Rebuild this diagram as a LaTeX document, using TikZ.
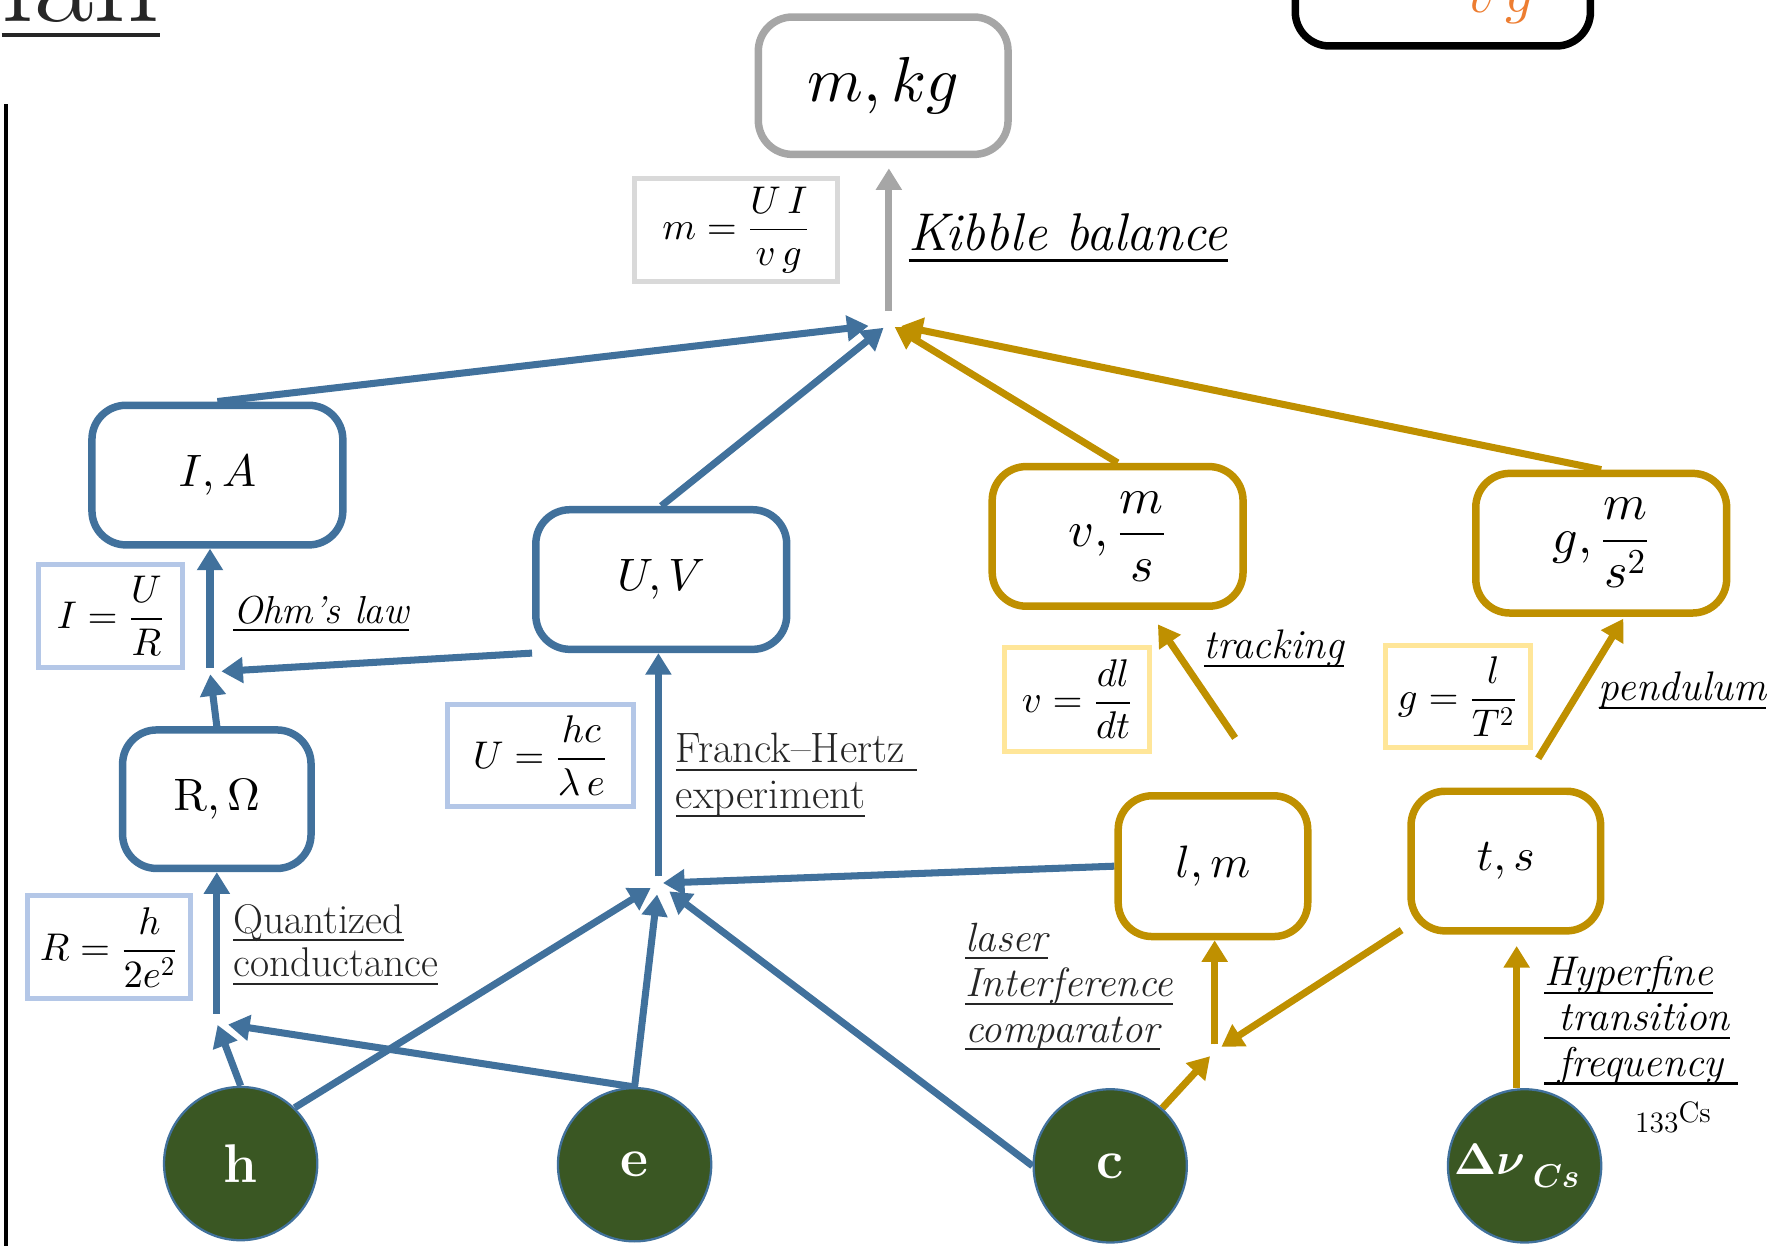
\documentclass[tikz,border=0pt]{standalone}
\usepackage{amsmath}
\usetikzlibrary{arrows.meta}
\DeclareFontShape{OT1}{cmr}{m}{n}{<->cmr10}{}
\DeclareFontShape{OT1}{cmr}{bx}{n}{<->cmbx10}{}
\DeclareFontShape{OML}{cmm}{m}{it}{<->cmmi10}{}
\DeclareFontShape{OML}{cmm}{b}{it}{<->cmmib10}{}
\DeclareFontShape{OMS}{cmsy}{m}{n}{<->cmsy10}{}
\DeclareFontShape{OMS}{cmsy}{b}{n}{<->cmbsy10}{}
\DeclareFontShape{OMX}{cmex}{m}{n}{<->cmex10}{}
\definecolor{blueC}{HTML}{41719C}
\definecolor{goldC}{HTML}{BF9000}
\definecolor{grayC}{HTML}{A6A6A6}
\definecolor{lblueC}{HTML}{B4C7E7}
\definecolor{lyellowC}{HTML}{FFE699}
\definecolor{lgrayC}{HTML}{D9D9D9}
\definecolor{greenC}{HTML}{3A5723}
\definecolor{orangeC}{HTML}{ED7D31}
\definecolor{textgray}{HTML}{262626}
\newsavebox{\ulbox}
\newcommand{\ulx}[3]{\sbox{\ulbox}{#3}\rlap{\rule[-#1]{\wd\ulbox}{#2}}\usebox{\ulbox}}
\newcommand{\myul}[1]{\ulx{0.2em}{0.9pt}{#1}}
\pgfdeclarelayer{bg}
\pgfsetlayers{bg,main}
\begin{document}
\begin{tikzpicture}[x=0.5pt,y=-0.5pt,
  bx/.style n args={3}{draw=#1, fill=white, line width=3.3pt, rounded corners=15pt,
     minimum width=#2, minimum height=#3, inner sep=0pt},
  fbx/.style n args={3}{draw=#1, fill=white, line width=2.2pt,
     minimum width=#2, minimum height=#3, inner sep=0pt, font=\fontsize{17}{20}\selectfont},
  labf/.style={font=\fontsize{20}{24}\selectfont},
  fracf/.style={font=\fontsize{22}{26}\selectfont},
  circ/.style={circle, draw=blueC, line width=1pt, fill=greenC, minimum size=67.5pt,
     inner sep=0pt, text=white},
  txt/.style={anchor=base west, inner sep=0pt},
  con/.style={line width=3.1pt, -{Triangle[length=9.5pt,width=11pt]}},
  bcon/.style={con, draw=blueC, fill=blueC},
  gcon/.style={con, draw=goldC, fill=goldC},
  grcon/.style={con, draw=grayC, fill=grayC}]
\useasboundingbox (0,0) rectangle (1568,1098);
\clip (0,0) rectangle (1568,1098);

% fragments at the edges
\node[anchor=base east, inner sep=0pt, text=textgray, font=\fontsize{57}{57}\selectfont] (title) at (141,19)
  {\ulx{7pt}{2pt}{lan}};
\draw[line width=1.75pt] (5,92) -- (5,1098);
\node[draw=black, line width=3.3pt, rounded corners=15pt, minimum width=130pt,
  minimum height=59.5pt, inner sep=0pt] (topbox) at (1271,-19) {};
\node[anchor=base, inner sep=0pt, text=orangeC, font=\fontsize{25}{25}\selectfont] (vg) at (1322,11) {$v\,g$};

% boxes
\node[bx={grayC}{110pt}{60.5pt}, font=\fontsize{28}{30}\selectfont] (mkg) at (778,75.5) {$m,kg$};
\node[fbx={lgrayC}{89.3pt}{45.3pt}] (mform) at (648.5,202.5) {$\displaystyle m=\frac{U\,I}{v\,g}$};
\node[bx={blueC}{110.5pt}{61.5pt}, labf] (IA) at (191.5,418.5) {$I,A$};
\node[fbx={lblueC}{63.3pt}{45.3pt}] (Iform) at (97.5,542.5) {$\displaystyle I=\frac{U}{R}$};
\node[bx={blueC}{110.5pt}{61.5pt}, labf] (UV) at (582.5,510.5) {$U,V$};
\node[fbx={lblueC}{81.8pt}{45.3pt}] (Uform) at (476,665.5) {$\displaystyle U=\frac{hc}{\lambda\,e}$};
\node[bx={blueC}{83pt}{61pt}, labf] (RO) at (191,704) {$\mathrm{R},\Omega$};
\node[fbx={lblueC}{71.8pt}{45.3pt}] (Rform) at (96,834.5) {$\displaystyle R=\frac{h}{2e^{2}}$};
\node[bx={goldC}{110.5pt}{61.5pt}, fracf] (v) at (984.5,472.5) {$v,\dfrac{m}{s}$};
\node[fbx={lyellowC}{63.8pt}{45.8pt}] (vform) at (949,616) {$\displaystyle v=\frac{dl}{dt}$};
\node[bx={goldC}{110.5pt}{61.5pt}, fracf] (g) at (1410.5,478.5) {$g,\dfrac{m}{s^{2}}$};
\node[fbx={lyellowC}{63.8pt}{45.3pt}] (gform) at (1284,613.5) {$\displaystyle g=\frac{l}{T^{2}}$};
\node[bx={goldC}{83.5pt}{62pt}, labf] (lm) at (1068.5,763) {$l,m$};
\node[bx={goldC}{83.5pt}{61.5pt}, labf] (ts) at (1326.5,758.5) {$t,s$};

% constants
\node[circ, font=\fontsize{24}{24}\selectfont\bfseries] (h) at (212,1025) {h};
\node[circ, font=\fontsize{24}{24}\selectfont\bfseries] (e) at (559,1026) {e};
\node[circ, font=\fontsize{24}{24}\selectfont\bfseries] (c) at (978,1027) {c};
\node[circ] (Dnu) at (1343,1027)
  {{\fontsize{19.5}{19.5}\selectfont\boldmath$\Delta\nu$}\kern3.5pt\raisebox{-5.5pt}{\fontsize{14.5}{14.5}\selectfont\boldmath$Cs$}\kern7pt\null};

% labels
\node[txt, font=\fontsize{23.4}{26}\selectfont\itshape] (kib) at (800,221) {\myul{Kibble balance}};
\node[txt, font=\fontsize{17.2}{20}\selectfont\itshape] (ohm) at (205,549) {\myul{Ohm’s law}};
\node[txt, text=textgray, font=\fontsize{18.3}{20}\selectfont] (qc1) at (205,822) {\myul{Quantized}};
\node[txt, text=textgray, font=\fontsize{18.3}{20}\selectfont] (qc2) at (205,860) {\myul{conductance}};
\node[txt, text=textgray, font=\fontsize{18.7}{20}\selectfont] (fh1) at (595,672) {\myul{Franck–Hertz~}};
\node[txt, text=textgray, font=\fontsize{18.7}{20}\selectfont] (fh2) at (595,712) {\myul{experiment}};
\node[txt, font=\fontsize{18.2}{20}\selectfont\itshape] (trk) at (1060,580) {\myul{tracking}};
\node[txt, font=\fontsize{18.2}{20}\selectfont\itshape] (pend) at (1408,617) {\myul{pendulum}};
\node[txt, text=textgray, font=\fontsize{18}{20}\selectfont\itshape] (las1) at (850,838) {\myul{laser}};
\node[txt, text=textgray, font=\fontsize{18}{20}\selectfont\itshape] (las2) at (850,878) {\myul{Interference}};
\node[txt, text=textgray, font=\fontsize{18}{20}\selectfont\itshape] (las3) at (850,918) {\myul{comparator}};
\node[txt, font=\fontsize{18.3}{20}\selectfont\itshape] (hyp1) at (1360,868) {\myul{Hyperfine}};
\node[txt, font=\fontsize{18.3}{20}\selectfont\itshape] (hyp2) at (1360,908) {\myul{~transition}};
\node[txt, font=\fontsize{18.3}{20}\selectfont\itshape] (hyp3) at (1360,948) {\myul{~frequency~}};
\node[txt, font=\fontsize{13}{15}\selectfont] (cs) at (1440,989) {\raisebox{-4.5pt}{133}Cs};

% junctions and free ends
\coordinate (J1) at (185,592);
\coordinate (J2) at (191,901);
\coordinate (J3) at (580,778);
\coordinate (J4) at (783,285);
\coordinate (J5) at (1070,926);
\coordinate (trkS) at (1088,650);
\coordinate (trkE) at (1020,550);
\coordinate (pendS) at (1355,668);
\coordinate (pendE) at (1430,545);

\begin{pgfonlayer}{bg}
 \draw[bcon, shorten >=9pt] (IA.north) -- (J4);
 \draw[bcon, shorten >=3pt] (UV.north) -- (J4);
 \draw[gcon, shorten >=3pt] (v.north) -- (J4);
 \draw[gcon, shorten >=5.5pt] (g.north) -- (J4);
 \draw[grcon, shorten <=5.5pt, shorten >=4.5pt] (J4) -- (J4 |- mkg.south);
 \draw[bcon, shorten <=2pt] (J1) -- (J1 |- IA.south);
 \draw[bcon, shorten >=1pt] (RO.north) -- (J1);
 \draw[bcon, shorten >=5pt] (UV.south west) -- (J1);
 \draw[bcon, shorten <=4pt] (J2) -- (J2 |- RO.south);
 \draw[bcon, shorten >=1pt] (h.north) -- (J2);
 \draw[bcon, shorten >=5pt] (e.north) -- (J2);
 \draw[bcon, shorten >=4pt] (h.46) -- (J3);
 \draw[bcon, shorten >=5pt] (e.north) -- (J3);
 \draw[bcon, shorten >=6pt] (c.west) -- (J3);
 \draw[bcon, shorten >=2pt] (lm.west) -- (J3);
 \draw[bcon, shorten <=3pt] (J3) -- (J3 |- UV.south);
 \draw[gcon] (trkS) -- (trkE);
 \draw[gcon] (pendS) -- (pendE);
 \draw[gcon, shorten <=3pt] (J5) -- (J5 |- lm.south);
 \draw[gcon, shorten >=3pt] (c.48) -- (J5);
 \draw[gcon, shorten >=3.5pt] ([shift={(-5,-4)}]ts.south west) -- (J5);
 \draw[gcon, shorten >=5pt] ([xshift=-3.5pt]Dnu.north) -- ([xshift=-3.5pt]Dnu.north |- ts.south);
\end{pgfonlayer}
\end{tikzpicture}
\end{document}
